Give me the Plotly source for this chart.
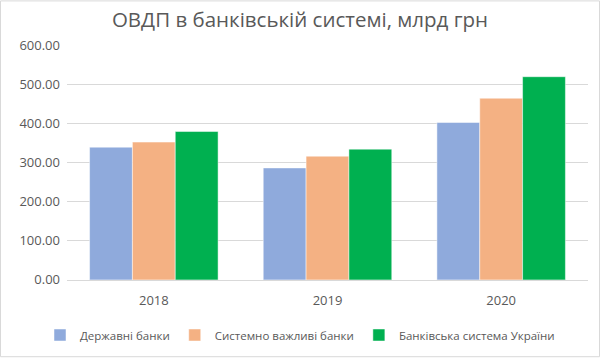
import plotly.graph_objects as go

years = ["2018", "2019", "2020"]
series_names = ["Державні банки", "Системно важливі банки", "Банківська система України"]
derzh = [339, 286, 402]
system_imp = [352, 316, 464]
total = [379, 334, 519]
colors = ["#8FAADC", "#F4B183", "#00B050"]
y_ticks = [0, 100, 200, 300, 400, 500, 600]

FONT = "Open Sans"
fig = go.Figure()
for name, vals, col in zip(series_names, [derzh, system_imp, total], colors):
    fig.add_trace(go.Bar(x=years, y=vals, name=name, marker=dict(color=col, line=dict(color="rgba(255,255,255,0.6)", width=0.8))))

L, R, T, B = 67, 12, 45, 78
W, H = 600, 360
pw, ph = W - L - R, H - T - B
fig.update_layout(
    width=W, height=H,
    margin=dict(l=L, r=R, t=T, b=B),
    paper_bgcolor="white", plot_bgcolor="white",
    barmode="group", bargap=0.26, bargroupgap=0,
    title=dict(text="ОВДП в банківській системі, млрд грн", x=0.5, xref="container", xanchor="center",
               y=1 - 20 / H, yref="container", yanchor="middle",
               font=dict(family=FONT, size=20.5, color="#595959")),
    font=dict(family=FONT, size=12, color="#595959"),
    legend=dict(orientation="h", x=0.5, xref="container", xanchor="center",
                y=1 - 335 / H, yref="container", yanchor="middle",
                font=dict(family=FONT, size=11.5, color="#595959"), traceorder="normal",
                itemwidth=30, tracegroupgap=0),
    yaxis=dict(range=[0, 600], tickvals=y_ticks, tickformat=".2f", showgrid=True, gridcolor="#D9D9D9",
               gridwidth=1, zeroline=False, showline=False, ticks="", ticklabelstandoff=6,
               tickfont=dict(size=13, color="#595959")),
    xaxis=dict(showline=True, linecolor="#D9D9D9", linewidth=1, ticks="", ticklabelstandoff=8,
               tickfont=dict(size=13, color="#595959")),
    shapes=[dict(type="rect", xref="paper", yref="paper",
                 x0=(0.5 - L) / pw, x1=(W - 0.5 - L) / pw,
                 y0=-(B - 0.5) / ph, y1=1 + (T - 0.5) / ph,
                 line=dict(color="#D9D9D9", width=1), layer="below")],
)
fig.write_html("out.html")
